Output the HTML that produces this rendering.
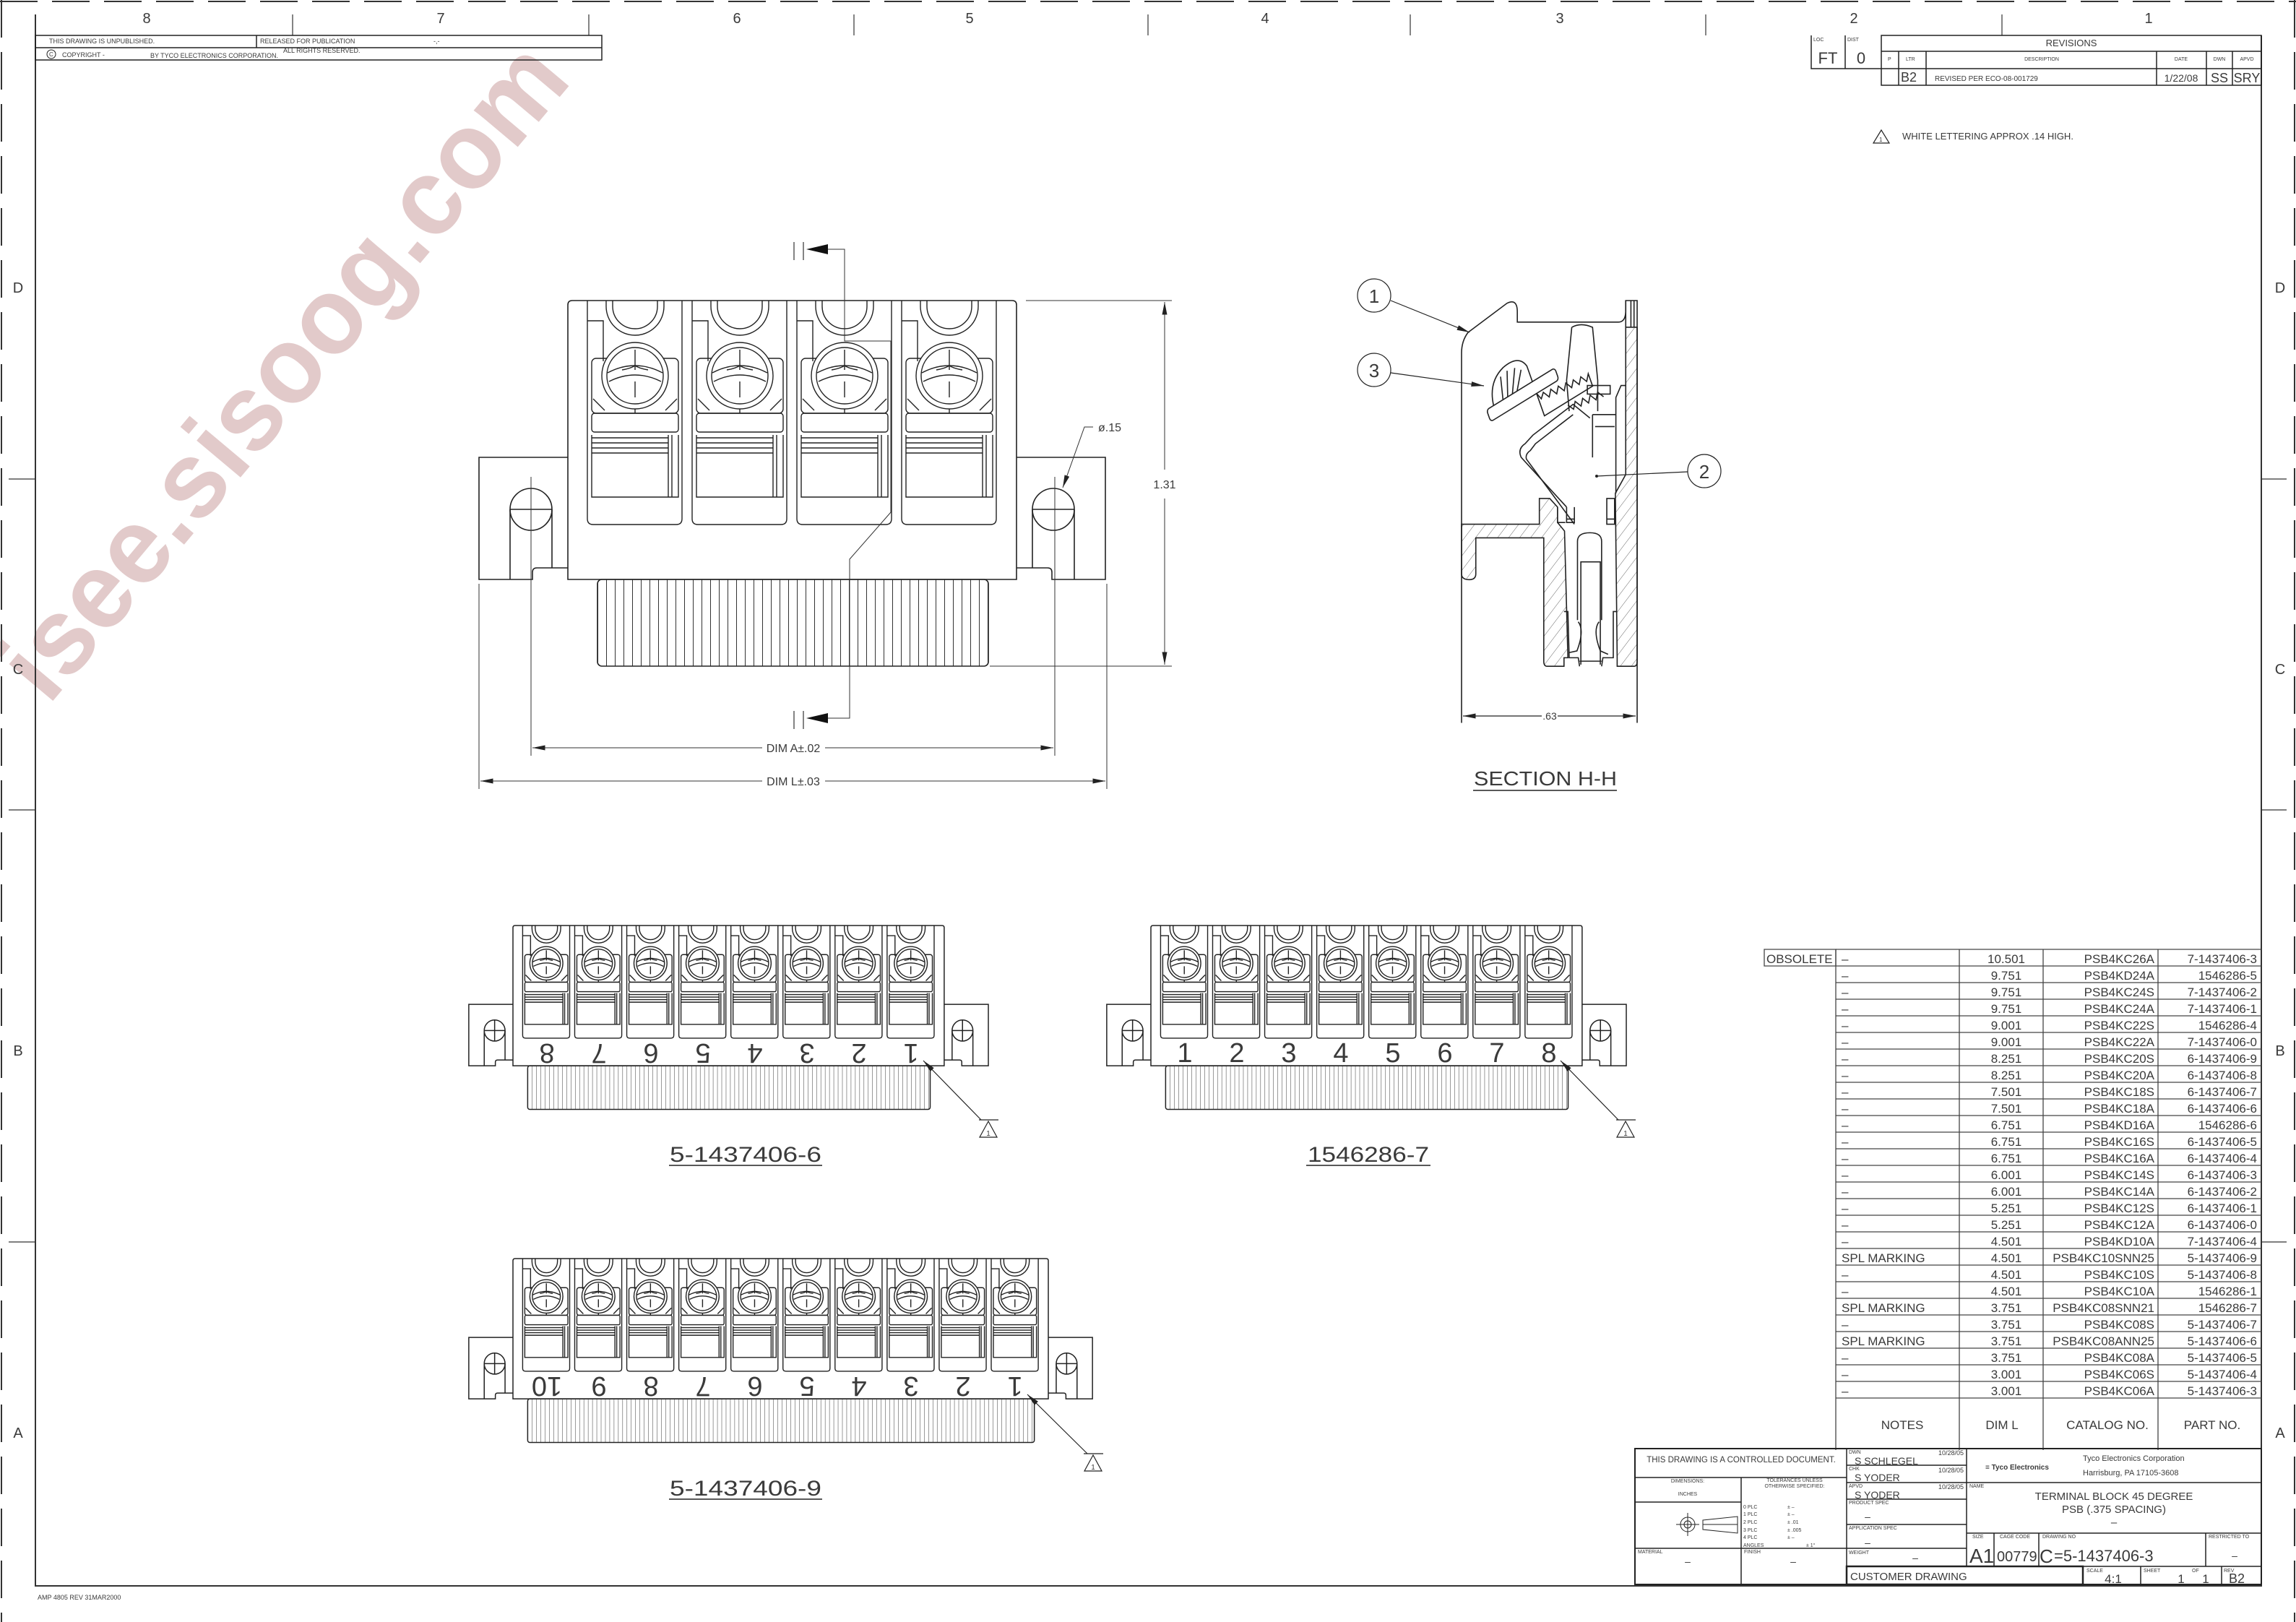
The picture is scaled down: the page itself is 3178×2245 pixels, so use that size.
<!DOCTYPE html>
<html><head><meta charset="utf-8"><title>Terminal Block 45 Degree</title>
<style>
html,body{margin:0;padding:0;background:#fff}
svg{display:block}
svg path,svg line,svg rect,svg circle,svg ellipse,svg polyline,svg polygon{vector-effect:non-scaling-stroke}
text{font-family:"Liberation Sans",sans-serif;fill:#3a3a3a}
</style></head><body>
<svg xmlns="http://www.w3.org/2000/svg" xmlns:xlink="http://www.w3.org/1999/xlink" width="3178" height="2245" viewBox="0 0 3178 2245">
<defs>
<marker id="ar" viewBox="0 0 20 8" refX="20" refY="4" markerWidth="20" markerHeight="7" markerUnits="userSpaceOnUse" orient="auto-start-reverse"><path d="M0 0 L20 4 L0 8 Z" fill="#222"/></marker>
<pattern id="fins" patternUnits="userSpaceOnUse" width="12" height="2000" x="41"><line x1="0.5" y1="0" x2="0.5" y2="2000" stroke="#333" stroke-width="1"/></pattern>
<pattern id="hatch" patternUnits="userSpaceOnUse" width="30" height="30" patternTransform="rotate(45)"><line x1="0" y1="0" x2="0" y2="30" stroke="#444" stroke-width="2"/></pattern>
<g id="cell" fill="none" stroke="#222" stroke-width="1.4">
<path d="M0 0 V302 Q0 310 8 310 H123 Q131 310 131 302 V0"/>
<path d="M26 0 V8 A40 40 0 0 0 106 8 V0"/>
<path d="M35 0 V8 A31 31 0 0 0 97 8 V0"/>
<path d="M0 28 H22 V84"/>
<rect x="6" y="80" width="120" height="76" rx="6"/>
<circle cx="66" cy="104" r="46" fill="#fff"/>
<circle cx="66" cy="104" r="39"/>
<path d="M28 100 Q66 80 104 100"/>
<path d="M30 112 Q66 94 102 112"/>
<path d="M66 68 V96 M66 112 V134 M48 96 Q60 94 66 90 Q72 94 84 96"/>
<path d="M8 136 L24 152 M124 136 L108 152 M66 150 V156"/>
<rect x="6" y="156" width="120" height="26" rx="4"/>
<path d="M6 190 H112 M6 197 H112 M6 204 H112 M6 211 H112"/>
<path d="M6 186 V272 H126 V186 M112 186 V272 M117 186 V272"/>
</g>
</defs>
<rect width="3178" height="2245" fill="#fff"/>

<!-- watermark -->
<text x="0" y="0" transform="translate(430,545) rotate(-50)" text-anchor="middle" font-size="150" font-weight="bold" style="fill:#e2caca" textLength="1130" lengthAdjust="spacingAndGlyphs">isee.sisoog.com</text>

<!-- border -->
<g stroke="#333" fill="none">
<path d="M0 2 H3178" stroke-dasharray="52 20" stroke-width="2"/>
<path d="M2 0 V2245" stroke-dasharray="52 20" stroke-width="2"/>
<path d="M3176 0 V2245" stroke-dasharray="52 20" stroke-width="2"/>
<path d="M49 20 V2195 H3130 V49" stroke-width="2"/>
<path d="M405 20 V49 M815 20 V49 M1182 20 V49 M1589 20 V49 M1952 20 V49 M2361 20 V49 M2771 20 V49" stroke-width="1.2"/>
<path d="M12 663 H49 M12 1121 H49 M12 1719 H49 M3130 663 H3165 M3130 1121 H3165 M3130 1719 H3165" stroke-width="1.2"/>
</g>
<g font-size="20" text-anchor="middle">
<text x="203" y="32">8</text><text x="610" y="32">7</text><text x="1020" y="32">6</text><text x="1342" y="32">5</text><text x="1751" y="32">4</text><text x="2159" y="32">3</text><text x="2566" y="32">2</text><text x="2974" y="32">1</text>
<text x="25" y="405">D</text><text x="25" y="933">C</text><text x="25" y="1461">B</text><text x="25" y="1990">A</text>
<text x="3156" y="405">D</text><text x="3156" y="933">C</text><text x="3156" y="1461">B</text><text x="3156" y="1990">A</text>
</g>
<text x="52" y="2214" font-size="9">AMP 4805 REV 31MAR2000</text>

<!-- top-left table -->
<g stroke="#222" fill="none" stroke-width="1.5">
<rect x="49" y="49" width="784" height="34"/>
<path d="M49 66 H833 M355 49 V66"/>
<circle cx="71" cy="75" r="6" stroke-width="1"/>
</g>
<g font-size="9">
<text x="68" y="60">THIS DRAWING IS UNPUBLISHED.</text>
<text x="360" y="60">RELEASED FOR PUBLICATION</text>
<text x="600" y="60">-,-</text>
<text x="68" y="78" font-size="8">C</text>
<text x="86" y="79">COPYRIGHT   -</text>
<text x="208" y="80">BY TYCO ELECTRONICS CORPORATION.</text>
<text x="392" y="73">ALL RIGHTS RESERVED.</text>
</g>

<!-- top-right LOC/DIST & revisions -->
<g stroke="#222" fill="none" stroke-width="1.5">
<path d="M2507 49 V95 H2604 M2554 49 V95"/>
<rect x="2604" y="49" width="526" height="69"/>
<path d="M2604 71 H3130 M2604 95 H3130 M2628 71 V118 M2666 71 V118 M2985 71 V118 M3054 71 V118 M3090 71 V118"/>
<path d="M2604 180 L2593 198 H2615 Z" stroke-width="1.2"/>
</g>
<g font-size="7"><text x="2510" y="57">LOC</text><text x="2557" y="57">DIST</text>
<text x="2613" y="84">P</text><text x="2638" y="84">LTR</text><text x="2826" y="84" text-anchor="middle">DESCRIPTION</text><text x="3019" y="84" text-anchor="middle">DATE</text><text x="3072" y="84" text-anchor="middle">DWN</text><text x="3110" y="84" text-anchor="middle">APVD</text></g>
<text x="2530" y="88" font-size="22" text-anchor="middle">FT</text>
<text x="2576" y="88" font-size="22" text-anchor="middle">0</text>
<text x="2867" y="64" font-size="13" text-anchor="middle">REVISIONS</text>
<text x="2631" y="113" font-size="18">B2</text>
<text x="2678" y="112" font-size="10">REVISED PER ECO-08-001729</text>
<text x="3019" y="113" font-size="14" text-anchor="middle">1/22/08</text>
<text x="3072" y="114" font-size="18" text-anchor="middle">SS</text>
<text x="3110" y="114" font-size="18" text-anchor="middle">SRY</text>
<text x="2601" y="196" font-size="8">1</text>
<text x="2633" y="193" font-size="13">WHITE LETTERING APPROX .14 HIGH.</text>

<!-- MAIN VIEW -->
<g transform="translate(786,416)" fill="none" stroke="#222" stroke-width="1.6">
<path d="M0 386 V6 Q0 0 6 0 H615 Q621 0 621 6 V386 Z" fill="#fff"/>
<path d="M0 217 H-123 V386 H-49 V376 Q-49 370 -43 370 H0"/>
<path d="M621 217 H744 V386 H670 V376 Q670 370 664 370 H621"/>
<ellipse cx="-51" cy="289" rx="29" ry="29"/><path d="M-80 289 H-22 M-80 289 V386 M-22 289 V370"/>
<ellipse cx="672" cy="289" rx="29" ry="29"/><path d="M643 289 H701 M643 289 V370 M701 289 V386"/>
<rect x="41" y="386" width="541" height="120" rx="6" fill="url(#fins)"/>
<use xlink:href="#cell" x="27" y="0"/><use xlink:href="#cell" x="172" y="0"/><use xlink:href="#cell" x="317" y="0"/><use xlink:href="#cell" x="462" y="0"/>
</g>
<!-- main view dims -->
<g stroke="#333" fill="none" stroke-width="1">
<path d="M735 660 V1046 M1460 660 V1046 M663 808 V1092 M1532 808 V1092"/>
<path d="M1420 416 H1622 M1370 922 H1622"/>
<path d="M1612 650 V418" marker-end="url(#ar)"/><path d="M1612 690 V920" marker-end="url(#ar)"/>
<path d="M1055 1035 H737" marker-end="url(#ar)"/><path d="M1142 1035 H1458" marker-end="url(#ar)"/>
<path d="M1055 1081 H665" marker-end="url(#ar)"/><path d="M1142 1081 H1530" marker-end="url(#ar)"/>
<path d="M1513 591 H1501 L1471 675" marker-end="url(#ar)"/>
<path d="M1140 345 H1169 V472 H1233 V709 L1176 774 V994 H1140"/>
<path d="M1099 335 V360 M1112 335 V360 M1099 984 V1009 M1112 984 V1009" stroke-width="1.2"/>
</g>
<path d="M1116 345 L1146 338 L1146 352 Z M1116 994 L1146 987 L1146 1001 Z" fill="#111"/>
<g font-size="16" text-anchor="middle">
<text x="1098" y="1041">DIM A±.02</text>
<text x="1098" y="1087">DIM L±.03</text>
<text x="1612" y="676">1.31</text>
<text x="1520" y="597" text-anchor="start">ø.15</text>
</g>

<!-- SECTION H-H -->
<g transform="translate(2023,416) scale(0.359,0.474) translate(-515,-97)" fill="none" stroke="#222" stroke-width="1.6">
<path d="M515 750 H815 V675 H855 L885 700 V745 L912 770 L925 1140 H910 V1165 H845 Q832 1165 832 1150 V790 H570 V895 Q570 912 545 912 Q515 912 515 895 Z" fill="url(#hatch)"/>
<path d="M1148 175 H1192 V1150 Q1192 1165 1180 1165 H1115 V1140 L1108 660 L1148 605 Z" fill="url(#hatch)"/>
<path d="M515 1330 V250 Q515 215 540 190 L690 105 Q730 90 730 130 V160 H1120 Q1146 160 1148 130 V97 H1192 V1330" />
<path d="M1168 97 V175 M1180 97 V175 M1148 97 V175"/>
<path d="M1110 380 L1130 345 H1148 M1110 380 V660"/>
<path d="M940 175 Q975 160 1020 175 L1040 330 V420 M940 175 L920 330 L930 420"/>
<path d="M1000 345 H1088 V370 H1000 Z M1020 430 H1110 M1030 465 H1105 M1020 430 V555"/>
<path d="M920 700 L745 555 Q730 530 760 515 L790 490 L945 400 L1010 440"/>
<path d="M950 750 L765 560 Q760 545 780 535 L800 515 L945 430"/>
<path d="M885 700 V745 H915 M920 700 V745 H950 V700 M1075 675 H1105 V750 H1075 Z M1075 735 H1105 M920 735 H950"/>
<path d="M962 1030 V800 Q962 775 1010 775 Q1055 775 1055 800 V1030 M975 1160 V860 H1050 V1160"/>
<path d="M910 1005 H925 L930 1140 H965 L970 1165 M1115 1005 H1100 V1140 H1060 L1055 1165 M965 1035 Q990 1060 960 1120 L930 1125 M1045 1035 Q1020 1060 1050 1120 L1080 1130 M970 1150 H1055"/>
<g transform="rotate(-25 760 380)">
<rect x="610" y="350" width="290" height="38" rx="10" fill="#fff"/>
<path d="M640 350 Q650 280 720 265 Q790 255 805 300 L805 350 M680 350 L700 285 M700 350 L730 280 M720 350 L760 285 M740 350 L780 300"/>
<path d="M805 388 L815 410 L830 396 L845 418 L860 400 L875 422 L890 404 L905 426 L920 408 L935 430 L950 412 L965 434 L980 416 L995 438 L1010 420 V460 H805 Z"/>
<path d="M900 470 L915 490 L930 472 L945 494 L960 476 L975 498 L990 480 L1005 502 L1020 484 L1035 506"/>
</g>
</g>
<g stroke="#222" fill="none" stroke-width="1.2">
<circle cx="1902" cy="409" r="23"/><circle cx="1902" cy="512" r="23"/><circle cx="2359" cy="652" r="23"/>
<path d="M1925 416 L2034 460" marker-end="url(#ar)"/>
<path d="M1925 516 L2054 534" marker-end="url(#ar)"/>
<path d="M2336 653 L2210 659"/>
<path d="M2134 991 H2025" marker-end="url(#ar)"/><path d="M2156 991 H2264" marker-end="url(#ar)"/>
<path d="M2039 1094 H2238" stroke-width="1.5"/>
</g>
<circle cx="2210" cy="659" r="2" fill="#222"/>
<g font-size="26" text-anchor="middle"><text x="1902" y="419">1</text><text x="1902" y="522">3</text><text x="2359" y="662">2</text></g>
<text x="2145" y="996" font-size="14" text-anchor="middle">.63</text>
<text x="2139" y="1087" font-size="28" text-anchor="middle" textLength="198" lengthAdjust="spacingAndGlyphs">SECTION H-H</text>

<!-- BOTTOM VIEW 1: 5-1437406-6 -->
<g transform="translate(710,1281) scale(0.497,0.503)" fill="none" stroke="#222" stroke-width="1.5">
<path d="M0 386 V6 Q0 0 6 0 H1195 Q1201 0 1201 6 V386 Z" fill="#fff"/>
<path d="M0 217 H-123 V386 H-49 V376 Q-49 370 -43 370 H0"/>
<path d="M1201 217 H1324 V386 H1250 V376 Q1250 370 1244 370 H1201"/>
<ellipse cx="-51" cy="289" rx="29" ry="29"/><path d="M-80 289 H-22 M-51 260 V318 M-80 289 V386 M-22 289 V370"/>
<ellipse cx="1252" cy="289" rx="29" ry="29"/><path d="M1223 289 H1281 M1252 260 V318 M1223 289 V370 M1281 289 V386"/>
<rect x="41" y="386" width="1121" height="120" rx="6" fill="url(#fins)"/>
<use xlink:href="#cell" x="27"/><use xlink:href="#cell" x="172"/><use xlink:href="#cell" x="317"/><use xlink:href="#cell" x="462"/><use xlink:href="#cell" x="607"/><use xlink:href="#cell" x="752"/><use xlink:href="#cell" x="897"/><use xlink:href="#cell" x="1042"/>
</g>
<g font-size="38" text-anchor="middle">
<text transform="translate(757,1445) rotate(180)">8</text><text transform="translate(829,1445) rotate(180)">7</text><text transform="translate(901,1445) rotate(180)">6</text><text transform="translate(973,1445) rotate(180)">5</text><text transform="translate(1045,1445) rotate(180)">4</text><text transform="translate(1117,1445) rotate(180)">3</text><text transform="translate(1189,1445) rotate(180)">2</text><text transform="translate(1261,1445) rotate(180)">1</text>
</g>
<g stroke="#222" fill="none" stroke-width="1.2">
<path d="M1358 1550 L1278 1468" marker-end="url(#ar)"/><path d="M1355 1550 H1382 M1368 1552 L1356 1574 H1380 Z"/>
<path d="M926 1613 H1138" stroke-width="1.5"/>
</g>
<text x="1368" y="1572" font-size="10" text-anchor="middle">1</text>
<text x="1032" y="1608" font-size="30" text-anchor="middle" textLength="210" lengthAdjust="spacingAndGlyphs">5-1437406-6</text>

<!-- BOTTOM VIEW 2: 1546286-7 -->
<g transform="translate(1593,1281) scale(0.497,0.503)" fill="none" stroke="#222" stroke-width="1.5">
<path d="M0 386 V6 Q0 0 6 0 H1195 Q1201 0 1201 6 V386 Z" fill="#fff"/>
<path d="M0 217 H-123 V386 H-49 V376 Q-49 370 -43 370 H0"/>
<path d="M1201 217 H1324 V386 H1250 V376 Q1250 370 1244 370 H1201"/>
<ellipse cx="-51" cy="289" rx="29" ry="29"/><path d="M-80 289 H-22 M-51 260 V318 M-80 289 V386 M-22 289 V370"/>
<ellipse cx="1252" cy="289" rx="29" ry="29"/><path d="M1223 289 H1281 M1252 260 V318 M1223 289 V370 M1281 289 V386"/>
<rect x="41" y="386" width="1121" height="120" rx="6" fill="url(#fins)"/>
<use xlink:href="#cell" x="27"/><use xlink:href="#cell" x="172"/><use xlink:href="#cell" x="317"/><use xlink:href="#cell" x="462"/><use xlink:href="#cell" x="607"/><use xlink:href="#cell" x="752"/><use xlink:href="#cell" x="897"/><use xlink:href="#cell" x="1042"/>
</g>
<g font-size="38" text-anchor="middle">
<text x="1640" y="1470">1</text><text x="1712" y="1470">2</text><text x="1784" y="1470">3</text><text x="1856" y="1470">4</text><text x="1928" y="1470">5</text><text x="2000" y="1470">6</text><text x="2072" y="1470">7</text><text x="2144" y="1470">8</text>
</g>
<g stroke="#222" fill="none" stroke-width="1.2">
<path d="M2240 1550 L2160 1468" marker-end="url(#ar)"/><path d="M2237 1550 H2264 M2250 1552 L2238 1574 H2262 Z"/>
<path d="M1808 1613 H1980" stroke-width="1.5"/>
</g>
<text x="2250" y="1572" font-size="10" text-anchor="middle">1</text>
<text x="1894" y="1608" font-size="30" text-anchor="middle" textLength="168" lengthAdjust="spacingAndGlyphs">1546286-7</text>

<!-- BOTTOM VIEW 3: 5-1437406-9 -->
<g transform="translate(710,1742) scale(0.497,0.503)" fill="none" stroke="#222" stroke-width="1.5">
<path d="M0 386 V6 Q0 0 6 0 H1485 Q1491 0 1491 6 V386 Z" fill="#fff"/>
<path d="M0 217 H-123 V386 H-49 V376 Q-49 370 -43 370 H0"/>
<path d="M1491 217 H1614 V386 H1540 V376 Q1540 370 1534 370 H1491"/>
<ellipse cx="-51" cy="289" rx="29" ry="29"/><path d="M-80 289 H-22 M-51 260 V318 M-80 289 V386 M-22 289 V370"/>
<ellipse cx="1542" cy="289" rx="29" ry="29"/><path d="M1513 289 H1571 M1542 260 V318 M1513 289 V370 M1571 289 V386"/>
<rect x="41" y="386" width="1411" height="120" rx="6" fill="url(#fins)"/>
<use xlink:href="#cell" x="27"/><use xlink:href="#cell" x="172"/><use xlink:href="#cell" x="317"/><use xlink:href="#cell" x="462"/><use xlink:href="#cell" x="607"/><use xlink:href="#cell" x="752"/><use xlink:href="#cell" x="897"/><use xlink:href="#cell" x="1042"/><use xlink:href="#cell" x="1187"/><use xlink:href="#cell" x="1332"/>
</g>
<g font-size="38" text-anchor="middle">
<text transform="translate(757,1906) rotate(180)">10</text><text transform="translate(829,1906) rotate(180)">9</text><text transform="translate(901,1906) rotate(180)">8</text><text transform="translate(973,1906) rotate(180)">7</text><text transform="translate(1045,1906) rotate(180)">6</text><text transform="translate(1117,1906) rotate(180)">5</text><text transform="translate(1189,1906) rotate(180)">4</text><text transform="translate(1261,1906) rotate(180)">3</text><text transform="translate(1333,1906) rotate(180)">2</text><text transform="translate(1405,1906) rotate(180)">1</text>
</g>
<g stroke="#222" fill="none" stroke-width="1.2">
<path d="M1505 2012 L1422 1930" marker-end="url(#ar)"/><path d="M1500 2012 H1527 M1513 2014 L1501 2036 H1525 Z"/>
<path d="M926 2075 H1138" stroke-width="1.5"/>
</g>
<text x="1513" y="2034" font-size="10" text-anchor="middle">1</text>
<text x="1032" y="2070" font-size="30" text-anchor="middle" textLength="210" lengthAdjust="spacingAndGlyphs">5-1437406-9</text>

<!-- PART TABLE -->
<g stroke="#444" fill="none" stroke-width="1.3">
<rect x="2442" y="1314" width="99" height="23"/>
<path d="M2541 1314 V2007 M2712 1314 V2007 M2828 1314 V2007 M2987 1314 V2007"/>
<path d="M2541 1314 H3130 M2541 1337 H3130 M2541 1360 H3130 M2541 1383 H3130 M2541 1406 H3130 M2541 1429 H3130 M2541 1452 H3130 M2541 1475 H3130 M2541 1498 H3130 M2541 1521 H3130 M2541 1544 H3130 M2541 1567 H3130 M2541 1590 H3130 M2541 1613 H3130 M2541 1636 H3130 M2541 1659 H3130 M2541 1682 H3130 M2541 1705 H3130 M2541 1728 H3130 M2541 1751 H3130 M2541 1774 H3130 M2541 1797 H3130 M2541 1820 H3130 M2541 1843 H3130 M2541 1866 H3130 M2541 1889 H3130 M2541 1912 H3130 M2541 1935 H3130"/>
</g>
<g font-size="17">
<text x="2445" y="1333">OBSOLETE</text>
<g>
<text x="2549" y="1333">–</text><text x="2549" y="1356">–</text><text x="2549" y="1379">–</text><text x="2549" y="1402">–</text><text x="2549" y="1425">–</text><text x="2549" y="1448">–</text><text x="2549" y="1471">–</text><text x="2549" y="1494">–</text><text x="2549" y="1517">–</text><text x="2549" y="1540">–</text><text x="2549" y="1563">–</text><text x="2549" y="1586">–</text><text x="2549" y="1609">–</text><text x="2549" y="1632">–</text><text x="2549" y="1655">–</text><text x="2549" y="1678">–</text><text x="2549" y="1701">–</text><text x="2549" y="1724">–</text><text x="2549" y="1747">SPL  MARKING</text><text x="2549" y="1770">–</text><text x="2549" y="1793">–</text><text x="2549" y="1816">SPL  MARKING</text><text x="2549" y="1839">–</text><text x="2549" y="1862">SPL  MARKING</text><text x="2549" y="1885">–</text><text x="2549" y="1908">–</text><text x="2549" y="1931">–</text>
</g>
<g text-anchor="middle">
<text x="2777" y="1333">10.501</text><text x="2777" y="1356">9.751</text><text x="2777" y="1379">9.751</text><text x="2777" y="1402">9.751</text><text x="2777" y="1425">9.001</text><text x="2777" y="1448">9.001</text><text x="2777" y="1471">8.251</text><text x="2777" y="1494">8.251</text><text x="2777" y="1517">7.501</text><text x="2777" y="1540">7.501</text><text x="2777" y="1563">6.751</text><text x="2777" y="1586">6.751</text><text x="2777" y="1609">6.751</text><text x="2777" y="1632">6.001</text><text x="2777" y="1655">6.001</text><text x="2777" y="1678">5.251</text><text x="2777" y="1701">5.251</text><text x="2777" y="1724">4.501</text><text x="2777" y="1747">4.501</text><text x="2777" y="1770">4.501</text><text x="2777" y="1793">4.501</text><text x="2777" y="1816">3.751</text><text x="2777" y="1839">3.751</text><text x="2777" y="1862">3.751</text><text x="2777" y="1885">3.751</text><text x="2777" y="1908">3.001</text><text x="2777" y="1931">3.001</text>
</g>
<g text-anchor="end">
<text x="2982" y="1333">PSB4KC26A</text><text x="2982" y="1356">PSB4KD24A</text><text x="2982" y="1379">PSB4KC24S</text><text x="2982" y="1402">PSB4KC24A</text><text x="2982" y="1425">PSB4KC22S</text><text x="2982" y="1448">PSB4KC22A</text><text x="2982" y="1471">PSB4KC20S</text><text x="2982" y="1494">PSB4KC20A</text><text x="2982" y="1517">PSB4KC18S</text><text x="2982" y="1540">PSB4KC18A</text><text x="2982" y="1563">PSB4KD16A</text><text x="2982" y="1586">PSB4KC16S</text><text x="2982" y="1609">PSB4KC16A</text><text x="2982" y="1632">PSB4KC14S</text><text x="2982" y="1655">PSB4KC14A</text><text x="2982" y="1678">PSB4KC12S</text><text x="2982" y="1701">PSB4KC12A</text><text x="2982" y="1724">PSB4KD10A</text><text x="2982" y="1747">PSB4KC10SNN25</text><text x="2982" y="1770">PSB4KC10S</text><text x="2982" y="1793">PSB4KC10A</text><text x="2982" y="1816">PSB4KC08SNN21</text><text x="2982" y="1839">PSB4KC08S</text><text x="2982" y="1862">PSB4KC08ANN25</text><text x="2982" y="1885">PSB4KC08A</text><text x="2982" y="1908">PSB4KC06S</text><text x="2982" y="1931">PSB4KC06A</text>
<text x="3124" y="1333">7-1437406-3</text><text x="3124" y="1356">1546286-5</text><text x="3124" y="1379">7-1437406-2</text><text x="3124" y="1402">7-1437406-1</text><text x="3124" y="1425">1546286-4</text><text x="3124" y="1448">7-1437406-0</text><text x="3124" y="1471">6-1437406-9</text><text x="3124" y="1494">6-1437406-8</text><text x="3124" y="1517">6-1437406-7</text><text x="3124" y="1540">6-1437406-6</text><text x="3124" y="1563">1546286-6</text><text x="3124" y="1586">6-1437406-5</text><text x="3124" y="1609">6-1437406-4</text><text x="3124" y="1632">6-1437406-3</text><text x="3124" y="1655">6-1437406-2</text><text x="3124" y="1678">6-1437406-1</text><text x="3124" y="1701">6-1437406-0</text><text x="3124" y="1724">7-1437406-4</text><text x="3124" y="1747">5-1437406-9</text><text x="3124" y="1770">5-1437406-8</text><text x="3124" y="1793">1546286-1</text><text x="3124" y="1816">1546286-7</text><text x="3124" y="1839">5-1437406-7</text><text x="3124" y="1862">5-1437406-6</text><text x="3124" y="1885">5-1437406-5</text><text x="3124" y="1908">5-1437406-4</text><text x="3124" y="1931">5-1437406-3</text>
</g>
<g text-anchor="middle"><text x="2633" y="1978">NOTES</text><text x="2771" y="1978">DIM  L</text><text x="2917" y="1978">CATALOG  NO.</text><text x="3062" y="1978">PART  NO.</text></g>
</g>

<!-- TITLE BLOCK -->
<g stroke="#222" fill="none" stroke-width="1.5">
<rect x="2263" y="2005" width="867" height="188" stroke-width="2"/>
<path d="M2556 2005 V2193 M2263 2045 H2556 M2410 2045 V2193 M2263 2079 H2410 M2263 2143 H2556"/>
<path d="M2556 2028 H2722 M2556 2052 H2722 M2556 2075 H2722 M2556 2110 H2722 M2556 2143 H2722"/>
<path d="M2722 2005 V2168 M2722 2052 H3130 M2722 2122 H3130 M2760 2122 V2168 M2822 2122 V2168 M3053 2122 V2168"/>
<path d="M2556 2168 H3130 M2883 2168 V2193 M2963 2168 V2193 M3075 2168 V2193"/>
<rect x="2556" y="2168" width="327" height="25" stroke-width="2.5"/>
<circle cx="2336" cy="2110" r="10" stroke-width="1"/><circle cx="2336" cy="2110" r="5" stroke-width="1"/>
<path d="M2320 2110 H2352 M2336 2094 V2126 M2357 2104 L2405 2099 V2122 L2357 2117 Z M2357 2110 H2405" stroke-width="1"/>
</g>
<g font-size="7">
<text x="2559" y="2012">DWN</text><text x="2559" y="2035">CHK</text><text x="2559" y="2059">APVD</text>
<text x="2559" y="2082">PRODUCT SPEC</text><text x="2559" y="2117">APPLICATION SPEC</text><text x="2559" y="2151">WEIGHT</text>
<text x="2726" y="2059">NAME</text>
<text x="2730" y="2129">SIZE</text><text x="2768" y="2129">CAGE CODE</text><text x="2827" y="2129">DRAWING NO</text><text x="3057" y="2129">RESTRICTED TO</text>
<text x="2888" y="2176">SCALE</text><text x="2967" y="2176">SHEET</text><text x="3034" y="2176">OF</text><text x="3078" y="2176">REV</text>
<text x="2267" y="2150">MATERIAL</text><text x="2414" y="2150">FINISH</text>
<text x="2336" y="2052" text-anchor="middle">DIMENSIONS:</text><text x="2336" y="2070" text-anchor="middle">INCHES</text>
<text x="2484" y="2051" text-anchor="middle">TOLERANCES UNLESS</text><text x="2484" y="2059" text-anchor="middle">OTHERWISE SPECIFIED:</text>
<text x="2413" y="2088">0 PLC</text><text x="2413" y="2098">1 PLC</text><text x="2413" y="2109">2 PLC</text><text x="2413" y="2120">3 PLC</text><text x="2413" y="2130">4 PLC</text><text x="2413" y="2141">ANGLES</text>
<text x="2474" y="2088">± –</text><text x="2474" y="2098">± –</text><text x="2474" y="2109">± .01</text><text x="2474" y="2120">± .005</text><text x="2474" y="2130">± –</text><text x="2500" y="2141">± 1°</text>
</g>
<text x="2410" y="2024" font-size="11.5" text-anchor="middle">THIS DRAWING IS A CONTROLLED DOCUMENT.</text>
<g font-size="9"><text x="2718" y="2014" text-anchor="end">10/28/05</text><text x="2718" y="2038" text-anchor="end">10/28/05</text><text x="2718" y="2061" text-anchor="end">10/28/05</text></g>
<g font-size="14"><text x="2567" y="2027">S SCHLEGEL</text><text x="2567" y="2050">S YODER</text><text x="2567" y="2074">S YODER</text></g>
<g font-size="14" text-anchor="middle"><text x="2585" y="2104">–</text><text x="2585" y="2140">–</text><text x="2651" y="2161">–</text><text x="2336" y="2166">–</text><text x="2482" y="2166">–</text><text x="3093" y="2158">–</text></g>
<text x="2748" y="2034" font-size="10" font-weight="bold" fill="#111">≡ Tyco Electronics</text>
<text x="2883" y="2022" font-size="11">Tyco Electronics Corporation</text>
<text x="2883" y="2042" font-size="11">Harrisburg, PA 17105-3608</text>
<g font-size="15" text-anchor="middle"><text x="2926" y="2076">TERMINAL BLOCK 45 DEGREE</text><text x="2926" y="2094">PSB (.375 SPACING)</text><text x="2926" y="2112">–</text></g>
<text x="2726" y="2163" font-size="28">A1</text>
<text x="2764" y="2161" font-size="20">00779</text>
<text x="2823" y="2163" font-size="26">C</text>
<text x="2843" y="2161" font-size="22">=5-1437406-3</text>
<text x="2561" y="2187" font-size="15">CUSTOMER  DRAWING</text>
<text x="2925" y="2191" font-size="17" text-anchor="middle">4:1</text>
<text x="3019" y="2191" font-size="17" text-anchor="middle">1</text>
<text x="3053" y="2191" font-size="17" text-anchor="middle">1</text>
<text x="3096" y="2191" font-size="18" text-anchor="middle">B2</text>
</svg>
</body></html>
